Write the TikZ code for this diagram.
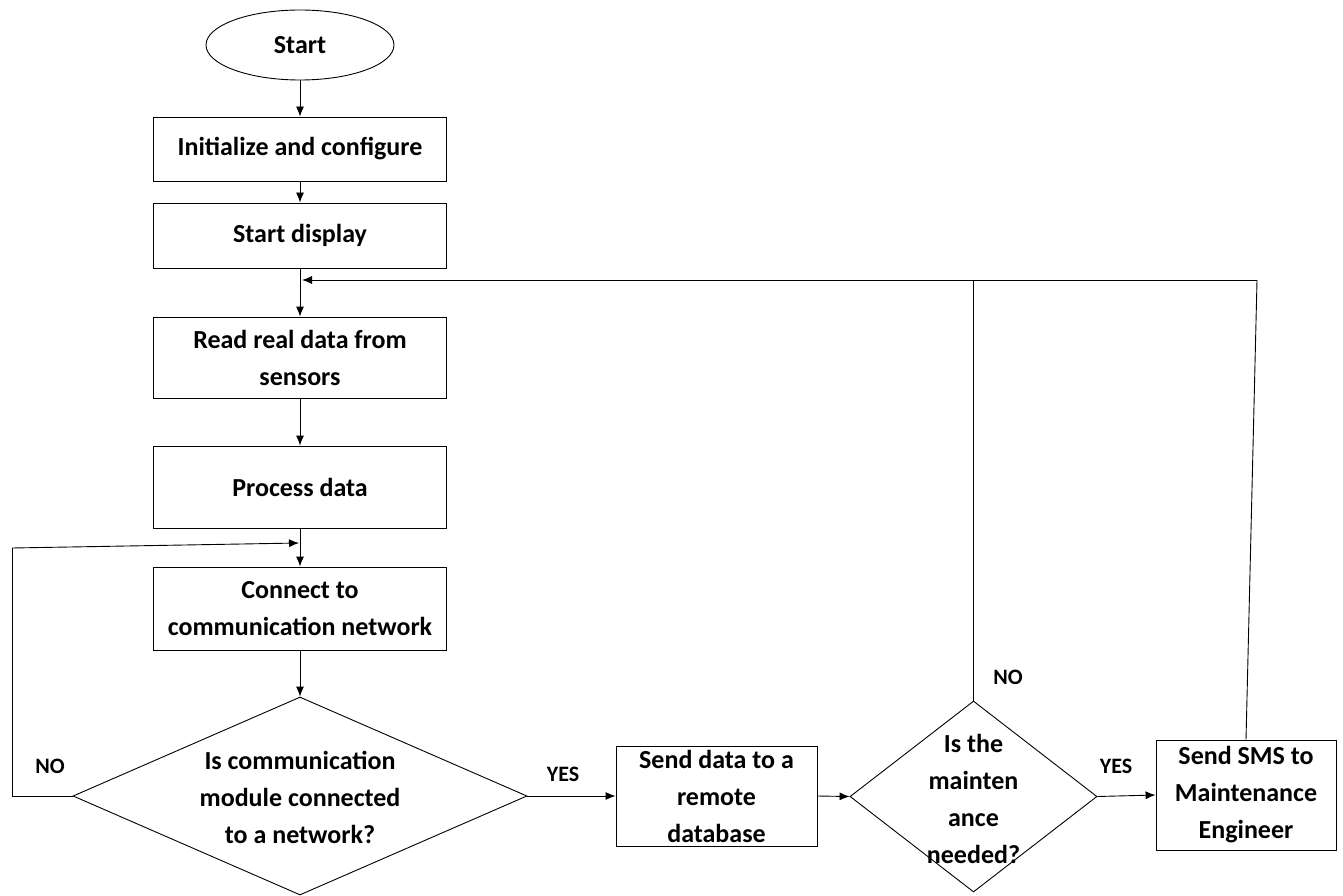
\documentclass[tikz,border=0pt]{standalone}
\usepackage{fontspec}
\setmainfont{Carlito}
\usetikzlibrary{shapes.geometric,arrows.meta}
\begin{document}
\begin{tikzpicture}[x=1pt,y=-1pt,
  every node/.style={font=\bfseries\fontsize{26}{37}\selectfont, align=center, inner sep=0pt},
  proc/.style={draw, rectangle, line width=0.9pt, minimum width=293pt},
  term/.style={draw, ellipse, line width=0.9pt, minimum width=188pt, minimum height=70pt},
  decide/.style={draw, diamond, line width=0.9pt},
  flow/.style={line width=0.9pt, -{Latex[length=10pt,width=8pt]}},
  plain/.style={line width=0.9pt},
  tag/.style={font=\bfseries\fontsize{22}{26}\selectfont}]
\useasboundingbox (0,0) rectangle (1343,896);

% main column
\node[term] (start) at (300,45) {Start};
\node[proc, minimum height=64pt] (init) at (300,149) {Initialize and configure};
\node[proc, minimum height=65pt] (disp) at (300,235.5) {Start display};
\node[proc, minimum height=81pt] (read) at (300,357.5) {Read real data from\\sensors};
\node[proc, minimum height=82pt] (proc) at (300,487) {Process data};
\node[proc, minimum height=83pt] (conn) at (300,608.5) {Connect to\\communication network};
\node[decide, minimum width=454pt, minimum height=198pt] (net) at (300,796) {};
\node at (300,797) {Is communication\\module connected\\to a network?};

% right branch
\node[proc, minimum width=201pt, minimum height=100pt] (send) at (716.5,796) {Send data to a\\remote\\database};
\node[decide, minimum width=247pt, minimum height=191pt] (maint) at (973.5,796.5) {};
\node at (973.5,799) {Is the\\mainten\\ance\\needed?};
\node[proc, minimum width=180pt, minimum height=110pt] (sms) at (1246,795) {Send SMS to\\Maintenance\\Engineer};

% branch labels
\node[tag] at (50,766) {NO};
\node[tag] at (563,774) {YES};
\node[tag] at (1008,677) {NO};
\node[tag] at (1116,766) {YES};

% helper points of the loops
\coordinate (jA) at (300,280);
\coordinate (jB) at (300,543);
\coordinate (nL) at (12,796);
\coordinate (nT) at (12,548);
\coordinate (rNo) at (973.5,280);
\coordinate (rSms) at (1257,280);

% straight flow
\draw[flow] (start) -- (init);
\draw[flow] (init) -- (disp);
\draw[flow] (disp) -- (read);
\draw[flow] (read) -- (proc);
\draw[flow] (proc) -- (conn);
\draw[flow] (conn) -- (net.north);
\draw[flow] (net.east) -- (send.west);
\draw[flow] (send.east) -- (maint.west);
\draw[flow] (maint.east) -- (sms.west);

% NO loop back to connect step
\draw[plain] (net.west) -- (nL) -- (nT);
\draw[flow] (nT) -- ([xshift=-1pt]jB);

% return loops to reading step
\draw[plain] (maint.north) -- (rNo);
\draw[plain] (sms.north) -- (rSms);
\draw[flow] (rSms) -- ([xshift=2pt]jA);
\end{tikzpicture}
\end{document}
